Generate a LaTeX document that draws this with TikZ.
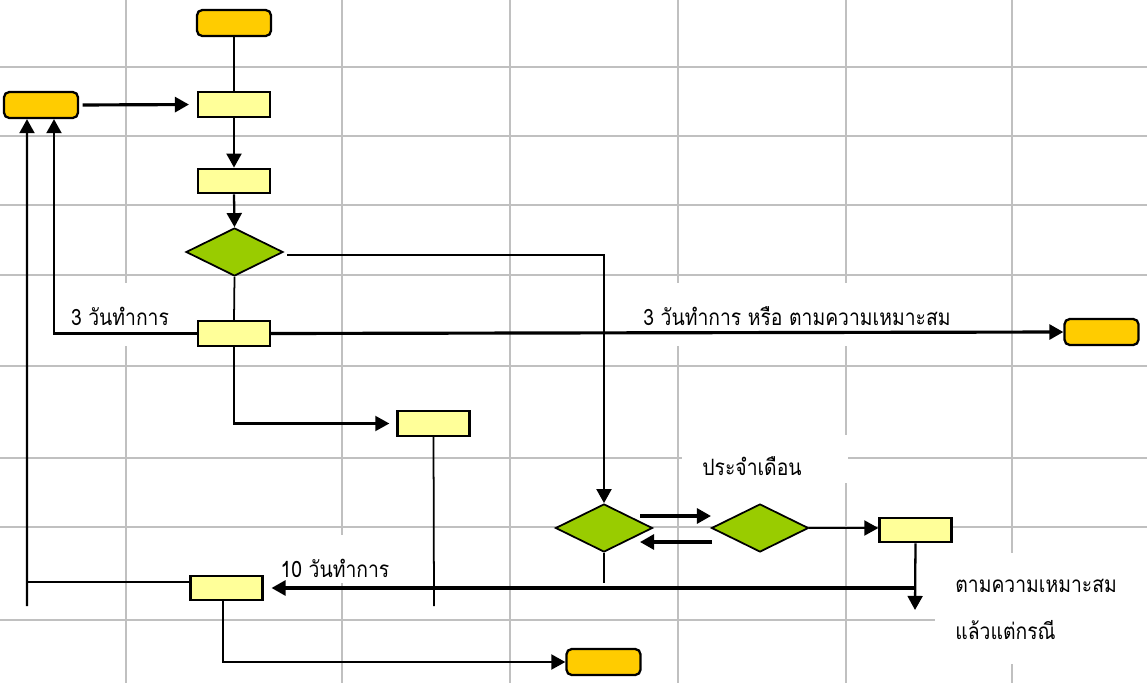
\documentclass[tikz,border=0pt]{standalone}
\usepackage{fontspec}
\newfontfamily\thaifont[Script=Thai,FakeStretch=0.86]{Loma}
\usetikzlibrary{arrows.meta,shapes.geometric}

\definecolor{termorange}{HTML}{FFCC00}
\definecolor{procyellow}{HTML}{FFFF99}
\definecolor{decgreen}{HTML}{99CC00}
\definecolor{cellgray}{HTML}{C0C0C0}

\tikzset{
  terminal/.style={draw, fill=termorange, rounded corners=3pt, line width=1.3pt,
    minimum width=1.48cm, minimum height=0.52cm, inner sep=0pt},
  process/.style={draw, fill=procyellow, line width=1.3pt,
    minimum width=1.44cm, minimum height=0.49cm, inner sep=0pt},
  decision/.style={draw, fill=decgreen, diamond, line width=1pt,
    minimum width=1.94cm, minimum height=0.96cm, inner sep=0pt},
  cell/.style={cellgray, line width=0.85pt},
  conn/.style={line width=1.3pt},
  thinconn/.style={line width=1pt},
  arr/.style={conn, -{Triangle[length=8pt,width=8.5pt]}},
  bigarr/.style={line width=1.8pt, -{Triangle[length=8pt,width=8.5pt]}},
  thaitext/.style={font=\thaifont\fontsize{12.8}{15}\selectfont, inner sep=0pt},
}

\begin{document}
\begin{tikzpicture}[x=0.02cm,y=-0.02cm]
\useasboundingbox (0,0) rectangle (1147,683);

%sheet rows
\draw[cell] (0,67) -- (1147,67);
\draw[cell] (0,136) -- (1147,136);
\draw[cell] (0,205) -- (1147,205);
\draw[cell] (0,275) -- (1147,275);
\draw[cell] (0,366) -- (1147,366);
\draw[cell] (0,458) -- (1147,458);
\draw[cell] (0,527) -- (1147,527);
\draw[cell] (0,620) -- (1147,620);
%sheet columns
\draw[cell] (126,0) -- (126,683);
\draw[cell] (342,0) -- (342,683);
\draw[cell] (510,0) -- (510,683);
\draw[cell] (678,0) -- (678,683);
\draw[cell] (846,0) -- (846,683);
\draw[cell] (1012,0) -- (1012,683);

%white text cells
\fill[white] (60,283) rectangle (200,346);
\fill[white] (620,283) rectangle (1000,346);
\fill[white] (682,435) rectangle (848,483);
\fill[white] (270,535) rectangle (400,583);
\fill[white] (935,553) rectangle (1147,664);

%terminals
\node[terminal] (s1) at (234,23) {};
\node[terminal] (s2) at (41,105) {};
\node[terminal] (e1) at (1101.5,332) {};
\node[terminal] (e2) at (603.5,662) {};

%processes
\node[process] (p1) at (234,104.5) {};
\node[process] (p2) at (234,181) {};
\node[process] (p3) at (234,333.5) {};
\node[process] (p4) at (433.5,423.5) {};
\node[process] (p5) at (915.5,530) {};
\node[process] (p6) at (226.5,588) {};

%decisions
\node[decision] (d1) at (234.5,252) {};
\node[decision] (d2) at (604,528) {};
\node[decision] (d3) at (760,528) {};

%free ends
\coordinate (p4end) at (434,606);
\coordinate (d2end) at (604,583);
\coordinate (p5end) at (915,610);
\coordinate (jl) at (27,582);
\coordinate (lstub) at (27,606);
\coordinate (ua) at (640,516);
\coordinate (ub) at (711,516);
\coordinate (la) at (712,542);
\coordinate (lb) at (640,542);

%labels
\node[thaitext] (t1) at (120,316) {3 วันทำการ};
\node[thaitext] (t2) at (797,316) {3 วันทำการ หรือ ตามความเหมาะสม};
\node[thaitext] (t3) at (752,466) {ประจำเดือน};
\node[thaitext] (t4) at (335,568) {10 วันทำการ};
\node[thaitext, anchor=west] (t5) at (955,586) {ตามความเหมาะสม};
\node[thaitext, anchor=west] (t6) at (955,630) {แล้วแต่กรณี};

%connectors
\draw[conn] (s1.south) -- (p1.north);
\draw[bigarr, shorten <=2pt, shorten >=4.5pt] (s2.east) -- (p1.west);
\draw[arr] (p1.south) -- (p2.north);
\draw[arr] (p2.south) -- (d1.north);
\draw[thinconn] (d1.south) -- (p3.north);
\draw[arr, shorten <=2pt] ([yshift=-0.06cm]d1.east) -| (d2.north);
\draw[arr] (p3.west) -| ([xshift=0.26cm]s2.south);
\draw[bigarr] (p3.east) -- (e1.west);
\draw[arr, shorten >=4pt] (p3.south) |- (p4.west);
\draw[thinconn] (p4.south) -- (p4end);
\draw[bigarr] (ua) -- (ub);
\draw[bigarr] (la) -- (lb);
\draw[arr] (d3.east) -- (d3.east -| p5.west);
\draw[arr] (p5.south) -- (p5end);
\draw[bigarr, shorten >=4.5pt] (p5.south |- p6.east) -- (p6.east);
\draw[thinconn] (d2.south) -- (d2end);
\draw[thinconn] (p6.west |- jl) -- (jl);
\draw[arr] (lstub) -- ([xshift=-0.28cm]s2.south);
\draw[arr] ([xshift=-0.07cm]p6.south) |- (e2.west);

\end{tikzpicture}
\end{document}
